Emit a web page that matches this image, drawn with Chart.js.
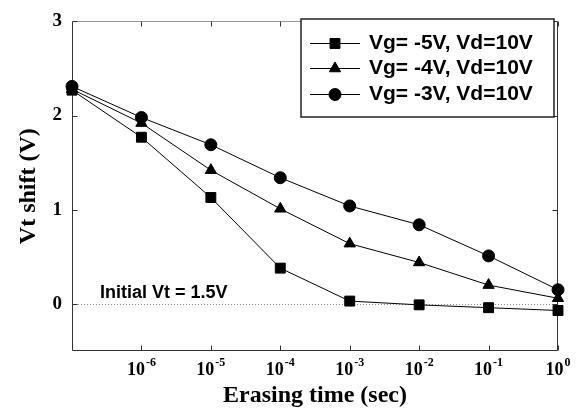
<!DOCTYPE html>
<html>
<head>
<meta charset="utf-8">
<script src="https://cdn.jsdelivr.net/npm/chart.js@4.4.1/dist/chart.umd.min.js"></script>
<style>
  html, body { margin: 0; padding: 0; background: #fff; }
</style>
</head>
<body>
<canvas id="vtChart" width="580" height="412"></canvas>
<script>
// tempo di cancellazione (sec) e Vt shift (V)
var times = [1e-7, 1e-6, 1e-5, 1e-4, 1e-3, 1e-2, 1e-1, 1];
var vg5 = [2.27, 1.77, 1.13, 0.38, 0.03, -0.01, -0.04, -0.07];
var vg4 = [2.28, 1.92, 1.42, 1.01, 0.64, 0.44, 0.20, 0.06];
var vg3 = [2.31, 1.98, 1.69, 1.34, 1.04, 0.84, 0.51, 0.15];
var seriesLabels = ['Vg= -5V, Vd=10V', 'Vg= -4V, Vd=10V', 'Vg= -3V, Vd=10V'];
var xTicks = [1e-6, 1e-5, 1e-4, 1e-3, 1e-2, 1e-1, 1];
var xTickExp = ['-6', '-5', '-4', '-3', '-2', '-1', '0'];
var yTicks = [0, 1, 2, 3];
var noteText = 'Initial Vt = 1.5V';

var serif = '"Liberation Serif", "Times New Roman", serif';
var sans = '"Liberation Sans", Arial, sans-serif';

function points(ys) {
    return times.map(function (t, i) { return { x: t, y: ys[i] }; });
}

var markers = [
    { pointStyle: 'rect', radius: 7 },
    { pointStyle: 'triangle', radius: 6.5 },
    { pointStyle: 'circle', radius: 6 }
];

function dataset(i, ys) {
    return {
        label: seriesLabels[i],
        data: points(ys),
        borderColor: '#000',
        borderWidth: 1,
        backgroundColor: '#000',
        pointBackgroundColor: '#000',
        pointBorderColor: '#000',
        pointStyle: markers[i].pointStyle,
        pointRadius: markers[i].radius,
        tension: 0,
        clip: false
    };
}

// cornice, tacche interne, linea tratteggiata, legenda e etichette 10^n
var framePlugin = {
    id: 'frame',
    beforeDatasetsDraw: function (chart) {
        var ctx = chart.ctx, a = chart.chartArea, x = chart.scales.x, y = chart.scales.y;
        ctx.save();
        var y0 = Math.round(y.getPixelForValue(0)) + 0.5;
        ctx.strokeStyle = '#888';
        ctx.lineWidth = 1;
        ctx.setLineDash([1, 2]);
        ctx.beginPath();
        ctx.moveTo(a.left, y0);
        ctx.lineTo(a.right, y0);
        ctx.stroke();
        ctx.setLineDash([]);

        ctx.fillStyle = '#000';
        ctx.font = 'bold 18px ' + sans;
        ctx.textBaseline = 'alphabetic';
        ctx.fillText(noteText, 100, 298);

        var l = Math.round(a.left) + 0.5, r = Math.round(a.right) - 0.5;
        var t = Math.round(a.top) + 0.5, b = Math.round(a.bottom) - 0.5;
        ctx.strokeStyle = '#333';
        ctx.beginPath();
        ctx.moveTo(l, t); ctx.lineTo(l, b); ctx.lineTo(r, b); ctx.lineTo(r, t);
        ctx.stroke();
        ctx.strokeStyle = '#999';
        ctx.beginPath();
        ctx.moveTo(l, t); ctx.lineTo(r, t);
        ctx.stroke();

        ctx.strokeStyle = '#333';
        ctx.beginPath();
        xTicks.forEach(function (v) {
            var px = Math.round(x.getPixelForValue(v)) + 0.5;
            ctx.moveTo(px, b); ctx.lineTo(px, b - 5);
            ctx.moveTo(px, t); ctx.lineTo(px, t + 5);
        });
        yTicks.forEach(function (v) {
            var py = Math.round(y.getPixelForValue(v)) + 0.5;
            ctx.moveTo(l, py); ctx.lineTo(l + 5, py);
            ctx.moveTo(r, py); ctx.lineTo(r - 5, py);
        });
        ctx.stroke();
        ctx.restore();
    },
    afterDatasetsDraw: function (chart) {
        var ctx = chart.ctx;
        ctx.save();
        ctx.fillStyle = '#fff';
        ctx.fillRect(301, 19, 253, 98);
        ctx.strokeStyle = '#222';
        ctx.lineWidth = 1.5;
        ctx.strokeRect(301, 19, 253, 98);
        var rows = [43, 68, 94];
        rows.forEach(function (ry, i) {
            ctx.strokeStyle = '#000';
            ctx.lineWidth = 1;
            ctx.beginPath();
            ctx.moveTo(310, ry + 0.5);
            ctx.lineTo(360, ry + 0.5);
            ctx.stroke();
            ctx.fillStyle = '#000';
            Chart.helpers.drawPoint(ctx, {
                pointStyle: markers[i].pointStyle,
                radius: markers[i].radius,
                rotation: 0,
                borderWidth: 1
            }, 335, ry + 0.5);
            ctx.fillStyle = '#000';
            ctx.font = 'bold 21px ' + sans;
            ctx.textBaseline = 'middle';
            ctx.textAlign = 'left';
            ctx.fillText(seriesLabels[i], 369, ry + 0.5);
        });
        ctx.restore();
    },
    afterDraw: function (chart) {
        var ctx = chart.ctx, x = chart.scales.x;
        ctx.save();
        ctx.fillStyle = '#000';
        ctx.textBaseline = 'alphabetic';
        ctx.textAlign = 'left';
        xTicks.forEach(function (v, i) {
            var px = x.getPixelForValue(v);
            ctx.font = 'bold 18px ' + serif;
            var w1 = ctx.measureText('10').width;
            ctx.font = 'bold 12px ' + serif;
            var w2 = ctx.measureText(xTickExp[i]).width;
            var start = px - (w1 + w2 + 1) / 2;
            ctx.font = 'bold 18px ' + serif;
            ctx.fillText('10', start, 375);
            ctx.font = 'bold 12px ' + serif;
            ctx.fillText(xTickExp[i], start + w1 + 1, 366);
        });
        ctx.restore();
    }
};

var ctxVt = document.getElementById('vtChart').getContext('2d');
var vtChart = new Chart(ctxVt, {
    type: 'line',
    data: {
        datasets: [dataset(0, vg5), dataset(1, vg4), dataset(2, vg3)]
    },
    options: {
        responsive: false,
        animation: false,
        layout: { padding: { top: 14, right: 22, left: 0, bottom: 0 } },
        plugins: {
            legend: { display: false },
            tooltip: { enabled: false }
        },
        scales: {
            x: {
                type: 'logarithmic',
                min: 1e-7,
                max: 1,
                afterBuildTicks: function (scale) {
                    scale.ticks = xTicks.map(function (v) { return { value: v }; });
                },
                afterFit: function (scale) { scale.height = 61; },
                grid: { display: false },
                border: { display: false },
                ticks: { display: false },
                title: {
                    display: true,
                    text: 'Erasing time (sec)',
                    color: '#000',
                    font: { family: serif, size: 24, weight: 'bold' },
                    padding: { top: 0, bottom: 2 }
                }
            },
            y: {
                min: -0.5,
                max: 3,
                afterBuildTicks: function (scale) {
                    scale.ticks = yTicks.map(function (v) { return { value: v }; });
                },
                afterFit: function (scale) { scale.width = 72; },
                grid: { display: false, drawTicks: false },
                border: { display: false },
                ticks: {
                    color: '#000',
                    padding: 10,
                    font: { family: serif, size: 19, weight: 'bold' }
                },
                title: {
                    display: true,
                    text: 'Vt shift (V)',
                    color: '#000',
                    font: { family: serif, size: 24, weight: 'bold' },
                    padding: { top: 14, bottom: 0 }
                }
            }
        }
    },
    plugins: [framePlugin]
});
</script>
</body>
</html>
